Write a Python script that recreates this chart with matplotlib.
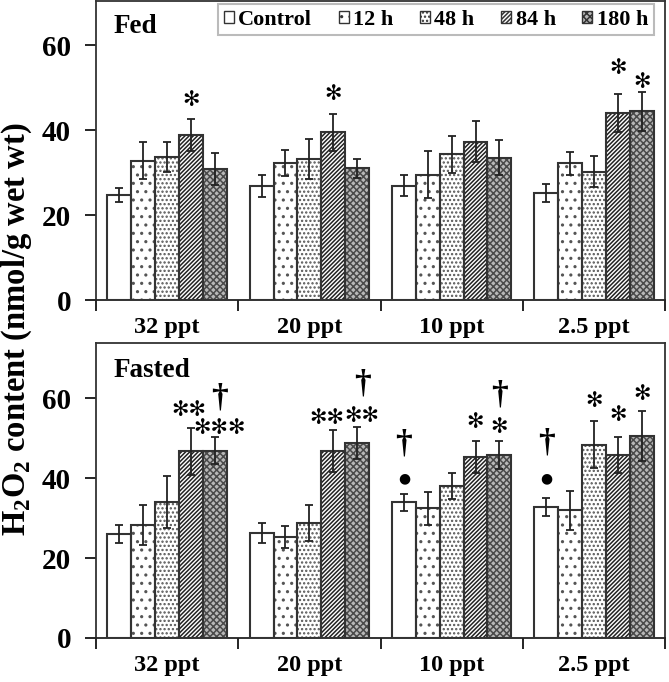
import numpy as np
import matplotlib
matplotlib.use("Agg")
import matplotlib.pyplot as plt

plt.rcParams['font.family'] = ['Liberation Serif', 'DejaVu Sans']
plt.rcParams['font.weight'] = 'bold'
plt.rcParams['mathtext.fontset'] = 'custom'
plt.rcParams['mathtext.rm'] = 'Liberation Serif:bold'
plt.rcParams['mathtext.bf'] = 'Liberation Serif:bold'
plt.rcParams['hatch.linewidth'] = 1.1

# ---------------- data ----------------
salinities = ["32 ppt", "20 ppt", "10 ppt", "2.5 ppt"]
series = ["Control", "12 h", "48 h", "84 h", "180 h"]

fed_means = [
    [24.7, 26.9, 26.9, 25.1],   # Control
    [32.8, 32.2, 29.5, 32.2],   # 12 h
    [33.6, 33.2, 34.3, 30.2],   # 48 h
    [38.8, 39.5, 37.3, 44.0],   # 84 h
    [30.8, 31.0, 33.5, 44.4],   # 180 h
]
fed_err = [
    [1.7, 2.6, 2.5, 2.1],
    [4.4, 3.1, 5.5, 2.7],
    [3.5, 4.8, 4.3, 3.6],
    [3.7, 4.4, 4.8, 4.5],
    [3.8, 2.2, 4.1, 4.6],
]
fasted_means = [
    [26.0, 26.2, 33.9, 32.8],
    [28.2, 25.3, 32.4, 31.9],
    [34.1, 28.8, 38.0, 48.4],
    [46.7, 46.8, 45.3, 45.8],
    [46.9, 48.8, 45.8, 50.5],
]
fasted_err = [
    [2.2, 2.5, 2.2, 2.2],
    [5.0, 2.7, 4.2, 4.8],
    [6.5, 4.5, 3.3, 5.8],
    [5.9, 5.2, 3.9, 4.5],
    [3.3, 3.9, 3.6, 6.3],
]

# annotations: (group, series, symbol, dx, dy above error bar, in points)
fed_annot = [
    (0, 3, "✻", 0, 14), (1, 3, "✻", 0, 14), (3, 3, "✻", 0, 19), (3, 4, "✻", 0, 7),
]
fasted_annot = [
    (0, 3, "✻✻", -1.5, 13), (0, 4, "✻✻✻", 3.5, 7), (0, 4, "†", 3.5, 28),
    (1, 3, "✻✻", -5, 9), (1, 4, "✻✻", 3.5, 8), (1, 4, "†", 3.5, 31),
    (2, 0, "●", 0, 11), (2, 0, "†", 0, 36), (2, 3, "✻", 0, 14), (2, 4, "✻", 0, 10),
    (2, 4, "†", 0, 33),
    (3, 0, "●", 0, 14), (3, 0, "†", 0, 40), (3, 2, "✻", 0, 15), (3, 3, "✻", 0, 16),
    (3, 4, "✻", 0, 12),
]

# ---------------- styles ----------------
fills = ["white", "white", "white", "white", "#b8b8b8"]
hatches = [None, "..", "....", "////////", "xxxxx"]
hatch_colors = ["#333333", "#555555", "#555555", "#222222", "#4a4a4a"]

W, H = 669, 682
fig = plt.figure(figsize=(W / 100, H / 100), dpi=100)
ax1 = fig.add_axes([96 / W, 1 - 300 / H, 569 / W, 299 / H])
ax2 = fig.add_axes([96 / W, 1 - 638 / H, 569 / W, 295 / H])

x = np.arange(len(salinities))
bw = 0.168


def draw(ax, means, errs, annots, ylim, label):
    for i, (m, e) in enumerate(zip(means, errs)):
        pos = x + (i - 2) * bw
        if hatches[i]:
            ax.bar(pos, m, bw, facecolor=fills[i], edgecolor=hatch_colors[i],
                   hatch=hatches[i], linewidth=0, zorder=2)
        else:
            ax.bar(pos, m, bw, facecolor=fills[i], linewidth=0, zorder=2)
        ax.bar(pos, m, bw, facecolor="none", edgecolor="#333333", linewidth=1.5,
               zorder=3)
        ax.errorbar(pos, m, yerr=e, fmt="none", ecolor="#222222", elinewidth=1.3,
                    capsize=3, capthick=1.3, zorder=4)
    for g, s, sym, dx, dy in annots:
        px = x[g] + (s - 2) * bw
        top = means[s][g] + errs[s][g]
        if sym == "†":
            fs, fam = 24, ["Liberation Serif"]
        elif sym == "●":
            fs, fam = 10, ["DejaVu Sans"]
        else:
            fs, fam = 15, ["DejaVu Sans"]
        ax.annotate(sym, (px, top), xytext=(dx, dy), textcoords="offset points",
                    ha="center", va="center", fontsize=fs, family=fam, zorder=5)
    ax.set_xlim(-0.5, 3.5)
    ax.set_ylim(*ylim)
    ax.set_yticks([0, 20, 40, 60])
    ax.tick_params(axis="y", direction="out", length=8, width=1.2, labelsize=21, pad=10)
    ax.set_xticks(x)
    ax.set_xticklabels(salinities, fontsize=17.5, fontweight="bold")
    ax.tick_params(axis="x", which="major", length=0, pad=12)
    ax.set_xticks([-0.5, 0.5, 1.5, 2.5, 3.5], minor=True)
    ax.tick_params(axis="x", which="minor", direction="out", length=8, width=1.2)
    for sp in ax.spines.values():
        sp.set_linewidth(1.3)
        sp.set_color("#333333")
    ax.spines["bottom"].set_color("#222222")
    ax.text(0.03, 0.955 if ylim[1] < 72 else 0.95, label, transform=ax.transAxes,
            fontsize=19.5, fontweight="bold", ha="left", va="top")
    for t in ax.get_yticklabels():
        t.set_fontweight("bold")


draw(ax1, fed_means, fed_err, fed_annot, (0, 70.4), "Fed")
draw(ax2, fasted_means, fasted_err, fasted_annot, (0, 73.8), "Fasted")

# legend with hatched handles
handles = [plt.Rectangle((0, 0), 1, 1, facecolor=fills[i], hatch=hatches[i],
                         edgecolor="#333333", linewidth=1.0) for i in range(len(series))]
leg = ax1.legend(handles, series, loc="upper left", bbox_to_anchor=(218 / W, 1 - 4 / H),
                 bbox_transform=fig.transFigure, ncol=5, frameon=True, fancybox=False,
                 edgecolor="#aaaaaa", prop=dict(weight="bold", size=16),
                 handlelength=0.45, handleheight=0.45, handletextpad=0.2,
                 columnspacing=1.2, borderpad=0.25, borderaxespad=0)
leg.get_frame().set_linewidth(1.5)

fig.text(17 / W, 1 - 329 / H, r"H$_\mathbf{2}$O$_\mathbf{2}$ content (nmol/g wet wt)",
         rotation=90, ha="center", va="center", fontsize=23.5, fontweight="bold")

fig.savefig("out.png", dpi=100)
